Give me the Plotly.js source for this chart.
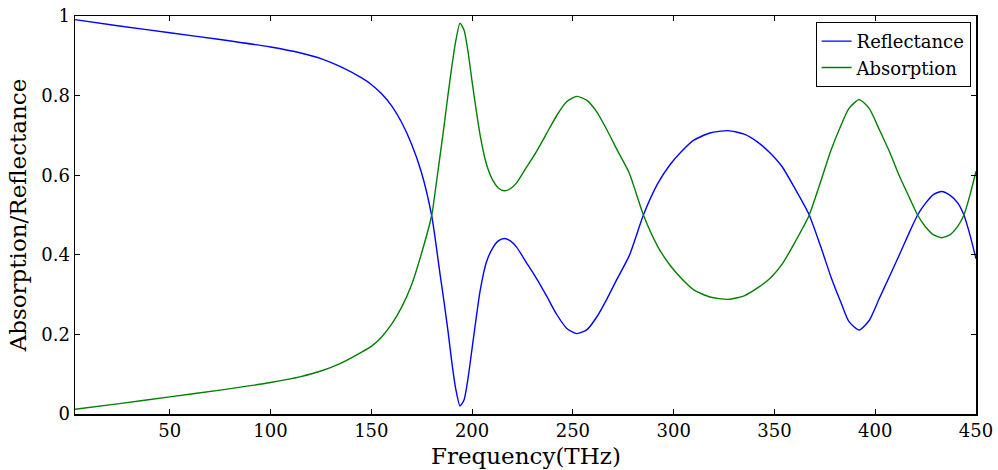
<!DOCTYPE html>
<html>
<head>
<meta charset="utf-8">
<script src="https://cdn.plot.ly/plotly-3.0.1.min.js"></script>
<style>html,body{margin:0;padding:0;background:#fff;}#chart{width:998px;height:470px;}</style>
</head>
<body>
<div id="chart"></div>
<script>
const frequency = [3, 25, 50, 75, 100, 115, 125, 135, 145, 150, 155, 160, 165, 170, 175, 180, 182, 184, 186, 188, 190, 192, 194, 196, 198, 200, 202, 204, 207, 210, 213, 216, 219, 222, 227, 232, 237, 242, 247, 252, 257, 262, 267, 272, 278, 285, 292, 298, 304, 310, 318, 327, 335, 342, 348, 354, 360, 367, 373, 378, 383, 387, 392, 397, 402, 407, 412, 417, 421, 425, 429, 433, 437, 441, 444, 447, 450];
const reflectance = [0.991, 0.975, 0.958, 0.941, 0.922, 0.907, 0.893, 0.872, 0.845, 0.828, 0.805, 0.775, 0.733, 0.678, 0.605, 0.497, 0.43, 0.355, 0.285, 0.21, 0.128, 0.06, 0.02, 0.035, 0.09, 0.165, 0.24, 0.31, 0.38, 0.415, 0.435, 0.441, 0.435, 0.42, 0.38, 0.34, 0.296, 0.25, 0.215, 0.202, 0.212, 0.245, 0.29, 0.34, 0.398, 0.50, 0.578, 0.625, 0.66, 0.688, 0.706, 0.712, 0.703, 0.682, 0.655, 0.62, 0.568, 0.503, 0.42, 0.345, 0.28, 0.232, 0.211, 0.235, 0.29, 0.345, 0.4, 0.457, 0.50, 0.53, 0.552, 0.559, 0.55, 0.53, 0.5, 0.45, 0.39];
const absorption = [0.012, 0.026, 0.043, 0.06, 0.079, 0.094, 0.108, 0.128, 0.155, 0.17, 0.193, 0.225, 0.268, 0.325, 0.405, 0.50, 0.57, 0.645, 0.72, 0.80, 0.875, 0.94, 0.982, 0.965, 0.91, 0.835, 0.765, 0.70, 0.63, 0.59, 0.568, 0.561, 0.566, 0.58, 0.62, 0.66, 0.705, 0.75, 0.785, 0.798, 0.788, 0.758, 0.713, 0.663, 0.605, 0.50, 0.422, 0.375, 0.34, 0.312, 0.294, 0.288, 0.297, 0.318, 0.342, 0.378, 0.43, 0.497, 0.585, 0.662, 0.725, 0.768, 0.79, 0.768, 0.715, 0.66, 0.598, 0.543, 0.50, 0.47, 0.45, 0.443, 0.45, 0.472, 0.50, 0.55, 0.61];
const xTicks = [50, 100, 150, 200, 250, 300, 350, 400, 450];
const yTicks = [0, 0.2, 0.4, 0.6, 0.8, 1];
const yTickLabels = ['0', '0.2', '0.4', '0.6', '0.8', '1'];
const xTitle = 'Frequency(THz)';
const yTitle = 'Absorption/Reflectance';

const serif = 'DejaVu Serif';

const traces = [
  {x: frequency, y: reflectance, type: 'scatter', mode: 'lines', name: 'Reflectance',
   line: {color: '#0000ff', width: 1.4, shape: 'spline', smoothing: 0.6}},
  {x: frequency, y: absorption, type: 'scatter', mode: 'lines', name: 'Absorption',
   line: {color: '#008000', width: 1.4, shape: 'spline', smoothing: 0.6}}
];

const layout = {
  width: 998, height: 470,
  margin: {l: 75, r: 22, t: 16, b: 56},
  paper_bgcolor: '#fff', plot_bgcolor: '#fff',
  font: {family: serif, size: 18, color: '#000'},
  showlegend: true,
  legend: {x: 0.994, xanchor: 'right', y: 0.985, yanchor: 'top',
           bordercolor: '#000', borderwidth: 1, bgcolor: '#fff',
           font: {family: serif, size: 18, color: '#000'},
           itemwidth: 30, tracegroupgap: 0},
  xaxis: {range: [3, 450], tickvals: xTicks, ticktext: xTicks.map(String),
          ticks: 'inside', ticklen: 5, tickcolor: '#000', tickwidth: 1,
          showline: true, linecolor: '#000', linewidth: 1.5, mirror: 'ticks',
          showgrid: false, zeroline: false,
          tickfont: {family: serif, size: 18}},
  yaxis: {range: [0, 1], tickvals: yTicks, ticktext: yTickLabels,
          ticks: 'inside', ticklen: 5, tickcolor: '#000', tickwidth: 1,
          showline: true, linecolor: '#000', linewidth: 1.5, mirror: 'ticks',
          showgrid: false, zeroline: false,
          tickfont: {family: serif, size: 18},
          title: {text: yTitle, font: {family: serif, size: 23}, standoff: 8}},
  annotations: [
    {text: xTitle, xref: 'paper', yref: 'paper', x: 0.5, y: -56/398, xanchor: 'center', yanchor: 'bottom',
     showarrow: false, borderpad: 0, font: {family: serif, size: 23, color: '#000'}}
  ]
};

Plotly.newPlot('chart', traces, layout, {displayModeBar: false, staticPlot: true});
</script>
</body>
</html>
